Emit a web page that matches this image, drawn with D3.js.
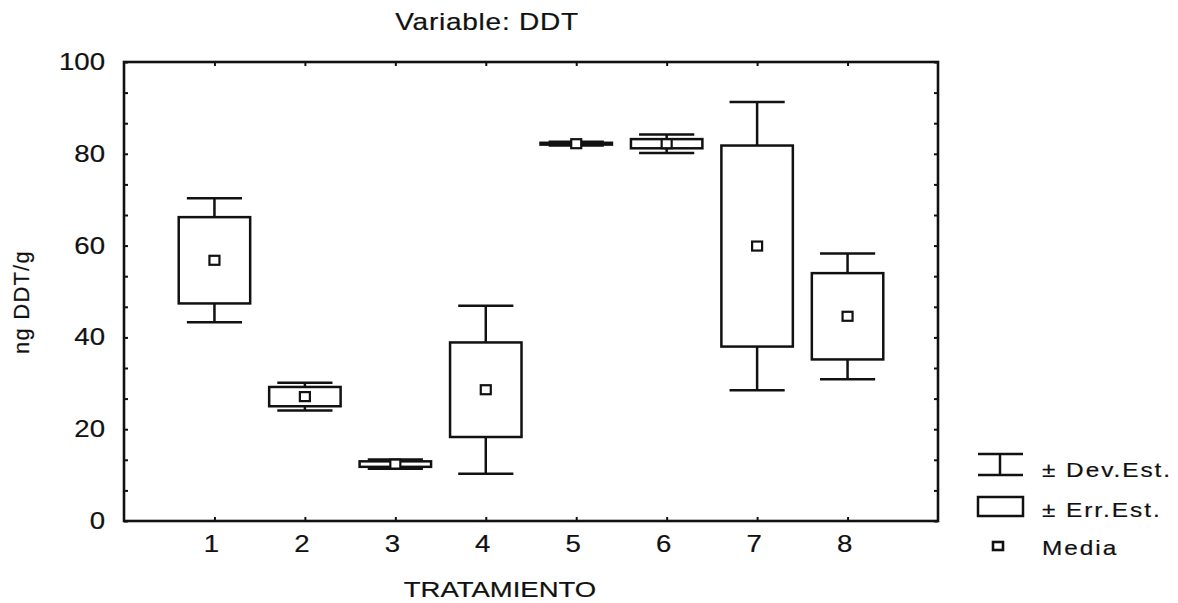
<!DOCTYPE html>
<html lang="es">
<head>
<meta charset="utf-8">
<script src="https://d3js.org/d3.v7.min.js"></script>
<style>
  body { margin: 0; background: #fff; }
  svg text { font-family: "Liberation Sans", Arial, sans-serif; fill: #111; stroke: #111; stroke-width: 0.2px; }
</style>
</head>
<body>
<div id="chart"></div>
<script>
// datos
const tratamientos = [1, 2, 3, 4, 5, 6, 7, 8];
const medias = [56.8, 27.1, 12.4, 28.6, 82.2, 82.2, 59.9, 44.6];
const errEst = [9.4, 2.1, 0.6, 10.3, 0.2, 1.0, 21.9, 9.4];
const devEst = [13.5, 3.0, 1.0, 18.3, 0.4, 2.0, 31.4, 13.7];
const yTicks = [0, 20, 40, 60, 80, 100];
const leyenda = ["\u00b1 Dev.Est.", "\u00b1 Err.Est.", "Media"];

const W = 1178, H = 603;
const frame = {left: 124, right: 938, top: 62, bottom: 521};
const ink = "#111";

const svg = d3.select("#chart").append("svg")
  .attr("width", W).attr("height", H);

const x = d3.scaleLinear().domain([0, 9]).range([frame.left, frame.right]);
const y = d3.scaleLinear().domain([0, 100]).range([frame.bottom, frame.top]);

const data = tratamientos.map((t, i) => ({t: t, m: medias[i], se: errEst[i], sd: devEst[i]}));

// texto algo ensanchado como en el escaneo
function wide(sel, px, py, sx) {
  return sel.attr("transform", "translate(" + px + "," + py + ") scale(" + (sx || 1.2) + ",1)");
}

// marco
svg.append("rect")
  .attr("x", frame.left).attr("y", frame.top)
  .attr("width", frame.right - frame.left).attr("height", frame.bottom - frame.top)
  .attr("fill", "none").attr("stroke", ink).attr("stroke-width", 2.6);

// marcas del eje y (cada 20/3, hacia dentro)
const minor = d3.range(0, 16).map(k => k * 20 / 3);
svg.append("g").attr("transform", "translate(" + frame.left + ",0)")
  .call(d3.axisRight(y).tickValues(minor).tickSize(4).tickFormat(""))
  .call(g => g.select(".domain").remove())
  .selectAll("line").attr("stroke", ink).attr("stroke-width", 2);
svg.append("g").attr("transform", "translate(" + frame.right + ",0)")
  .call(d3.axisLeft(y).tickValues(minor).tickSize(4).tickFormat(""))
  .call(g => g.select(".domain").remove())
  .selectAll("line").attr("stroke", ink).attr("stroke-width", 2);

// marcas del eje x
svg.append("g").attr("transform", "translate(0," + frame.bottom + ")")
  .call(d3.axisTop(x).tickValues(tratamientos).tickSize(4).tickFormat(""))
  .call(g => g.select(".domain").remove())
  .selectAll("line").attr("stroke", ink).attr("stroke-width", 2);
svg.append("g").attr("transform", "translate(0," + frame.top + ")")
  .call(d3.axisBottom(x).tickValues(tratamientos).tickSize(4).tickFormat(""))
  .call(g => g.select(".domain").remove())
  .selectAll("line").attr("stroke", ink).attr("stroke-width", 2);

// etiquetas
svg.append("g").selectAll("text").data(yTicks).enter().append("text")
  .attr("text-anchor", "end").attr("font-size", 23)
  .each(function(d) { wide(d3.select(this), 105, y(d) + 8); })
  .text(d => d);

svg.append("g").selectAll("text").data(tratamientos).enter().append("text")
  .attr("text-anchor", "middle").attr("font-size", 23)
  .each(function(d) { wide(d3.select(this), x(d) - 3, 552); })
  .text(d => d);

wide(svg.append("text").attr("text-anchor", "middle").attr("font-size", 23)
  .attr("letter-spacing", 0.6), 487, 30, 1.22).text("Variable: DDT");
wide(svg.append("text").attr("text-anchor", "middle").attr("font-size", 22), 500, 597, 1.25)
  .text("TRATAMIENTO");
svg.append("text").attr("text-anchor", "middle").attr("font-size", 22)
  .attr("letter-spacing", 1.2)
  .attr("transform", "translate(29,302) rotate(-90)")
  .text("ng DDT/g");

// cajas
const boxW = 0.79, capW = 0.61;
const bw = x(boxW) - x(0), cw = x(capW) - x(0);
const g = svg.append("g").attr("stroke", ink).attr("stroke-width", 2.5);

g.selectAll(".wh").data(data).enter().append("line")
  .attr("x1", d => x(d.t)).attr("x2", d => x(d.t))
  .attr("y1", d => y(d.m + d.sd)).attr("y2", d => y(d.m - d.sd));
g.selectAll(".capT").data(data).enter().append("line")
  .attr("x1", d => x(d.t) - cw / 2).attr("x2", d => x(d.t) + cw / 2)
  .attr("y1", d => y(d.m + d.sd)).attr("y2", d => y(d.m + d.sd));
g.selectAll(".capB").data(data).enter().append("line")
  .attr("x1", d => x(d.t) - cw / 2).attr("x2", d => x(d.t) + cw / 2)
  .attr("y1", d => y(d.m - d.sd)).attr("y2", d => y(d.m - d.sd));
g.selectAll(".box").data(data).enter().append("rect")
  .attr("x", d => x(d.t) - bw / 2).attr("width", bw)
  .attr("y", d => y(d.m + d.se)).attr("height", d => y(d.m - d.se) - y(d.m + d.se))
  .attr("fill", "#fff");
g.selectAll(".mean").data(data).enter().append("rect")
  .attr("x", d => x(d.t) - 5).attr("y", d => y(d.m) - 4.5)
  .attr("width", 10).attr("height", 9)
  .attr("fill", "#fff").attr("stroke-width", 2.2);

// leyenda
const lg = svg.append("g").attr("stroke", ink).attr("stroke-width", 2.5).attr("fill", "none");
lg.append("path").attr("d", "M978,454H1023M978,475H1023M1000,454V475");
lg.append("rect").attr("x", 978).attr("y", 497).attr("width", 45).attr("height", 19);
lg.append("rect").attr("x", 993).attr("y", 542).attr("width", 10).attr("height", 8)
  .attr("stroke-width", 2.6);

const legY = [477, 517, 555];
svg.append("g").selectAll("text").data(leyenda).enter().append("text")
  .attr("font-size", 20).attr("letter-spacing", 1.6)
  .each(function(d, i) { wide(d3.select(this), 1042, legY[i], 1.22); })
  .text(d => d);
</script>
</body>
</html>
